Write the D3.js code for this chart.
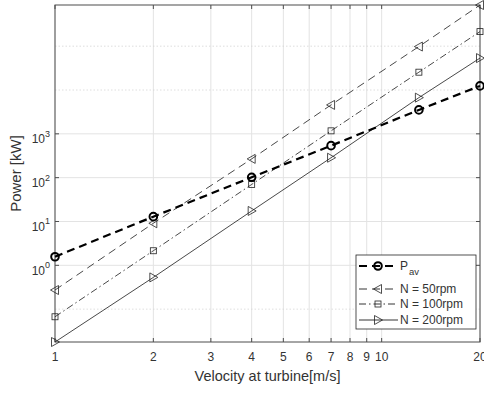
<!DOCTYPE html>
<html>
    <head>
        <title>Power vs velocity</title>
        <script src="https://d3js.org/d3.v7.min.js"></script>
    </head>
    <style>
        body { margin: 0; background: #fff; }
        text { font-family: "Liberation Sans", Arial, sans-serif; fill: #333; }
    </style>
    <body>
        <div class="graph"></div>
        <script>
            // values
            const velocity = [1, 2, 4, 7, 13, 20];
            const pAv = [1.57, 12.9, 102, 537, 3515, 12400];
            const n50 = [0.273, 9.1, 268, 4570, 98000, 870000];
            const n100 = [0.067, 2.15, 70, 1170, 25500, 215000];
            const n200 = [0.0178, 0.53, 17.4, 285, 6700, 53500];

            const xTicks = [1, 2, 3, 4, 5, 6, 7, 8, 9, 10, 20];
            const yTicks = [1, 10, 100, 1000];
            const yMinorGrid = [0.1, 10000, 100000];

            const seriesNames = ['P', 'N = 50rpm', 'N = 100rpm', 'N = 200rpm'];

            const width = 484;
            const height = 395;
            const pLeft = 55, pRight = 480, pTop = 5, pBottom = 342;

            const series = [
                { name: seriesNames[0], values: pAv, marker: 'circle', dash: '8,5', lw: 2.2 },
                { name: seriesNames[1], values: n50, marker: 'tri-left', dash: '8,5', lw: 0.8 },
                { name: seriesNames[2], values: n100, marker: 'square', dash: '7,3,1.5,3', lw: 0.8 },
                { name: seriesNames[3], values: n200, marker: 'tri-right', dash: null, lw: 0.8 }
            ];

            const allVals = [].concat(pAv, n50, n100, n200);

            const x = d3.scaleLog()
                .domain([1, 20])
                .range([pLeft, pRight]);

            const y = d3.scaleLog()
                .domain(d3.extent(allVals))
                .range([pBottom, pTop]);

            const svg = d3.select('.graph')
                .append('svg')
                .attr('width', width)
                .attr('height', height);

            // grid
            svg.append('g').selectAll('line')
                .data(xTicks)
                .enter().append('line')
                .attr('x1', d => x(d)).attr('x2', d => x(d))
                .attr('y1', pTop).attr('y2', pBottom)
                .attr('stroke', '#e3e3e3').attr('stroke-width', 1);

            svg.append('g').selectAll('line')
                .data(yTicks)
                .enter().append('line')
                .attr('x1', pLeft).attr('x2', pRight)
                .attr('y1', d => y(d)).attr('y2', d => y(d))
                .attr('stroke', '#e3e3e3').attr('stroke-width', 1);

            svg.append('g').selectAll('line')
                .data(yMinorGrid)
                .enter().append('line')
                .attr('x1', pLeft).attr('x2', pRight)
                .attr('y1', d => y(d)).attr('y2', d => y(d))
                .attr('stroke', '#d6d6d6').attr('stroke-width', 0.8)
                .attr('stroke-dasharray', '1.5,2');

            // box + inward ticks
            svg.append('rect')
                .attr('x', pLeft).attr('y', pTop)
                .attr('width', pRight - pLeft).attr('height', pBottom - pTop)
                .attr('fill', 'none')
                .attr('stroke', '#4d4d4d').attr('stroke-width', 1);

            const ticks = svg.append('g').attr('stroke', '#4d4d4d').attr('stroke-width', 1);
            xTicks.forEach(t => {
                ticks.append('line').attr('x1', x(t)).attr('x2', x(t)).attr('y1', pBottom).attr('y2', pBottom - 4);
                ticks.append('line').attr('x1', x(t)).attr('x2', x(t)).attr('y1', pTop).attr('y2', pTop + 4);
            });
            yTicks.forEach(t => {
                ticks.append('line').attr('x1', pLeft).attr('x2', pLeft + 4).attr('y1', y(t)).attr('y2', y(t));
                ticks.append('line').attr('x1', pRight).attr('x2', pRight - 4).attr('y1', y(t)).attr('y2', y(t));
            });

            // tick labels
            svg.append('g').selectAll('text')
                .data(xTicks)
                .enter().append('text')
                .attr('x', d => x(d))
                .attr('y', 361)
                .attr('text-anchor', 'middle')
                .attr('font-size', 12)
                .text(d => d);

            const yl = svg.append('g').selectAll('text')
                .data(yTicks)
                .enter().append('text')
                .attr('x', 50)
                .attr('y', d => y(d) + 9.5)
                .attr('text-anchor', 'end')
                .attr('font-size', 12);
            yl.append('tspan').text('10');
            yl.append('tspan')
                .attr('dy', -6.5)
                .attr('font-size', 9)
                .text(d => Math.round(Math.log10(d)));

            // axis labels
            svg.append('text')
                .attr('x', (pLeft + pRight) / 2)
                .attr('y', 381)
                .attr('text-anchor', 'middle')
                .attr('font-size', 14.5)
                .text('Velocity at turbine[m/s]');

            svg.append('text')
                .attr('transform', `translate(21, ${(pTop + pBottom) / 2}) rotate(-90)`)
                .attr('text-anchor', 'middle')
                .attr('font-size', 15)
                .text('Power [kW]');

            function drawMarker(g, type, cx, cy, lw) {
                if (type === 'circle') {
                    g.append('circle').attr('cx', cx).attr('cy', cy).attr('r', 3.8)
                        .attr('fill', 'none').attr('stroke', '#000').attr('stroke-width', 2);
                } else if (type === 'square') {
                    g.append('rect').attr('x', cx - 3).attr('y', cy - 3).attr('width', 6).attr('height', 6)
                        .attr('fill', 'none').attr('stroke', '#222').attr('stroke-width', lw);
                } else {
                    const s = type === 'tri-left' ? -1 : 1;
                    const p = d3.path();
                    p.moveTo(cx + s * 4.5, cy);
                    p.lineTo(cx - s * 3.5, cy - 4.5);
                    p.lineTo(cx - s * 3.5, cy + 4.5);
                    p.closePath();
                    g.append('path').attr('d', p.toString())
                        .attr('fill', 'none').attr('stroke', '#222').attr('stroke-width', lw);
                }
            }

            const line = d3.line()
                .x((d, i) => x(velocity[i]))
                .y(d => y(d));

            // draw thin series first, P_av on top
            [series[3], series[2], series[1], series[0]].forEach(s => {
                const g = svg.append('g');
                g.append('path')
                    .attr('d', line(s.values))
                    .attr('fill', 'none')
                    .attr('stroke', s.marker === 'circle' ? '#000' : '#1a1a1a')
                    .attr('stroke-width', s.lw)
                    .attr('stroke-dasharray', s.dash);
                s.values.forEach((v, i) => drawMarker(g, s.marker, x(velocity[i]), y(v), s.lw));
            });

            // legend
            const lg = svg.append('g');
            lg.append('rect')
                .attr('x', 356).attr('y', 255)
                .attr('width', 120).attr('height', 74)
                .attr('fill', '#fff')
                .attr('stroke', '#262626').attr('stroke-width', 0.8);

            const rowY = [266, 289, 304, 320];
            series.forEach((s, i) => {
                const ry = rowY[i];
                lg.append('line')
                    .attr('x1', 359).attr('x2', 398)
                    .attr('y1', ry).attr('y2', ry)
                    .attr('stroke', '#000')
                    .attr('stroke-width', s.lw)
                    .attr('stroke-dasharray', s.dash);
                drawMarker(lg, s.marker, 378, ry, s.lw);
                const t = lg.append('text')
                    .attr('x', 400)
                    .attr('y', ry + 4)
                    .attr('font-size', 12);
                t.append('tspan').text(s.name);
                if (i === 0) {
                    t.append('tspan').attr('dy', 5).attr('dx', 1).attr('font-size', 9.5).text('av');
                }
            });
        </script>
    </body>
</html>
